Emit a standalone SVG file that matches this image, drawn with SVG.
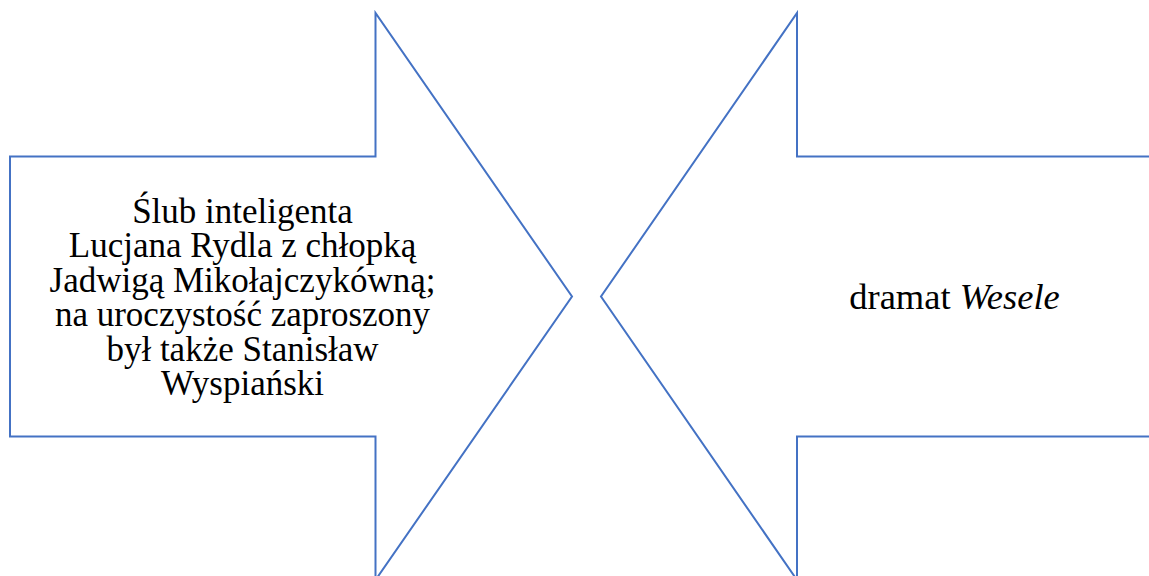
<svg xmlns="http://www.w3.org/2000/svg" width="1149" height="576" viewBox="0 0 1149 576">
<style>
.arrow{fill:#ffffff;stroke:#4472C4;stroke-width:2;stroke-linejoin:miter}
.t{font-family:"Liberation Serif","Times New Roman",serif;font-size:35px;fill:#000;text-anchor:middle}
</style>
<rect width="1149" height="576" fill="#ffffff"/>
<g id="left-arrow">
<polygon class="arrow" points="10,156.5 375.5,156.5 375.5,13 572,296.5 375.5,580 375.5,436.5 10,436.5"/>
<text class="t" x="242.5" y="222.5">Ślub inteligenta</text>
<text class="t" x="242.5" y="257">Lucjana Rydla z chłopką</text>
<text class="t" x="242.5" y="291.5">Jadwigą Mikołajczykówną;</text>
<text class="t" x="242.5" y="326">na uroczystość zaproszony</text>
<text class="t" x="242.5" y="360.5">był także Stanisław</text>
<text class="t" x="242.5" y="395">Wyspiański</text>
</g>
<g id="right-arrow">
<polygon class="arrow" points="1160,156.5 797,156.5 797,13 601,296.5 797,580 797,436.5 1160,436.5"/>
<text class="t" x="954.5" y="309" style="font-size:36.5px">dramat <tspan font-style="italic">Wesele</tspan></text>
</g>
<g id="connectors"/>
</svg>
